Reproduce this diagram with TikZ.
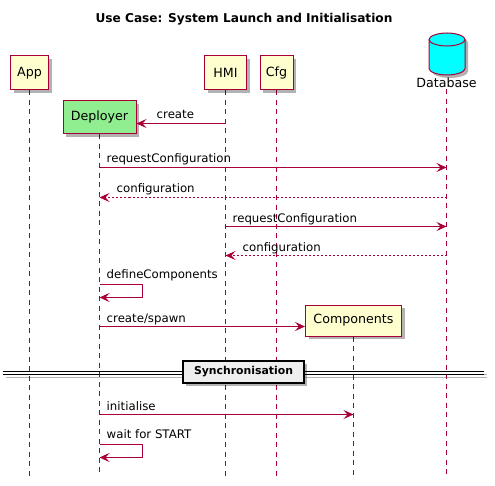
\documentclass[tikz,border=0pt]{standalone}
\usepackage{fontspec}
\setmainfont{DejaVu Sans}
\usetikzlibrary{calc}
\usetikzlibrary{arrows.meta}
\usetikzlibrary{shadows}
\usetikzlibrary{backgrounds}

\definecolor{umlred}{HTML}{A80036}
\definecolor{umlyellow}{HTML}{FEFECE}
\definecolor{umlgreen}{HTML}{90EE90}
\definecolor{umlgray}{HTML}{EEEEEE}
\definecolor{umlcyan}{HTML}{00FFFF}

\tikzset{
  party/.style={draw=umlred, line width=1bp, fill=umlyellow, inner sep=0pt,
    minimum height=34bp, font=\fontsize{12.7}{14}\selectfont,
    drop shadow={shadow xshift=3bp, shadow yshift=-3bp, fill=black, opacity=0.3}},
  lifeline/.style={draw=umlred, line width=1.2bp, dash pattern=on 5bp off 4.5bp},
  msg/.style={draw=umlred, line width=1bp, -{Stealth[length=10bp, width=9bp, inset=4bp]}},
  reply/.style={msg, dash pattern=on 2bp off 2bp},
  msgtext/.style={font=\fontsize{11.8}{14}\selectfont, anchor=base west, inner sep=0pt},
}

\begin{document}
\begin{tikzpicture}[x=1bp, y=-1bp]
  \useasboundingbox (0,0) rectangle (495,486);

  % Title
  \node[font=\fontsize{12.2}{14}\selectfont\bfseries, anchor=base] (title) at (244,22.5)
    {Use Case: System Launch and Initialisation};

  % The participants
  \node[party, minimum width=38bp] (app) at (29.5,73) {App};
  \node[party, minimum width=42bp] (hmi) at (225.5,73) {HMI};
  \node[party, minimum width=33bp] (cfg) at (276.5,73) {Cfg};
  \node[party, minimum width=73bp, minimum height=33bp, fill=umlgreen] (dep) at (99.5,117.5) {Deployer};
  \node[party, minimum width=96bp, minimum height=31bp] (comp) at (353.5,320.5) {Components};

  % The database
  \fill[black, opacity=0.3, shift={(3,3)}] (429,39.5) -- (429,68.5)
    .. controls (429,71.8) and (437.1,75) .. (447,75)
    .. controls (456.9,75) and (465,71.8) .. (465,68.5) -- (465,39.5)
    .. controls (465,36.2) and (456.9,33) .. (447,33)
    .. controls (437.1,33) and (429,36.2) .. (429,39.5) -- cycle;
  \filldraw[fill=umlcyan, draw=umlred, line width=1bp] (429,39.5) -- (429,68.5)
    .. controls (429,71.8) and (437.1,75) .. (447,75)
    .. controls (456.9,75) and (465,71.8) .. (465,68.5) -- (465,39.5)
    .. controls (465,36.2) and (456.9,33) .. (447,33)
    .. controls (437.1,33) and (429,36.2) .. (429,39.5) -- cycle;
  \draw[umlred, line width=1bp] (429,39.5)
    .. controls (429,42.8) and (437.1,46) .. (447,46)
    .. controls (456.9,46) and (465,42.8) .. (465,39.5);
  \node[font=\fontsize{12.7}{14}\selectfont, inner sep=1pt] (db) at (446.5,83) {Database};

  % Lifelines
  \coordinate (bottom) at (0,476);
  \begin{scope}[on background layer]
    \foreach \p in {app, dep, hmi, cfg, comp, db}
      \draw[lifeline] (\p.south) -- (\p.south |- bottom);
  \end{scope}

  % Message rows
  \coordinate (m1) at (0,123.5);
  \coordinate (m2) at (0,167.5);
  \coordinate (m3) at (0,197.5);
  \coordinate (m4) at (0,226.5);
  \coordinate (m5) at (0,255.5);
  \coordinate (m6) at (0,284.5);
  \coordinate (m7) at (0,326.5);
  \coordinate (m8) at (0,414.5);
  \coordinate (m9) at (0,444.5);

  % Messages
  \draw[msg] (hmi |- m1) -- (dep.east |- m1);
  \node[msgtext] at ($(dep.east |- m1)+(20,-4.5)$) {create};
  \draw[msg] (dep |- m2) -- (db |- m2);
  \node[msgtext] at ($(dep |- m2)+(7,-4.5)$) {requestConfiguration};
  \draw[reply] (db |- m3) -- (dep |- m3);
  \node[msgtext] at ($(dep |- m3)+(17,-4.5)$) {configuration};
  \draw[msg] (hmi |- m4) -- (db |- m4);
  \node[msgtext] at ($(hmi |- m4)+(7,-4.5)$) {requestConfiguration};
  \draw[reply] (db |- m5) -- (hmi |- m5);
  \node[msgtext] at ($(hmi |- m5)+(17,-4.5)$) {configuration};
  \draw[msg] (dep |- m6) -| ($(dep |- m6)+(43,13)$) -- ($(dep |- m6)+(0,13)$);
  \node[msgtext] at ($(dep |- m6)+(7,-6)$) {defineComponents};
  \draw[msg] (dep |- m7) -- (comp.west |- m7);
  \node[msgtext] at ($(dep |- m7)+(7,-4.5)$) {create/spawn};

  % The divider
  \draw[black, opacity=0.3, line width=1bp] (6,374.5) -- (487,374.5) (6,377.5) -- (487,377.5);
  \draw[black, line width=1bp] (3,371.5) -- (484,371.5) (3,374.5) -- (484,374.5);
  \node[draw=black, line width=1.5bp, fill=umlgray, minimum width=121bp, minimum height=22bp,
    inner sep=0pt, font=\fontsize{10.9}{13}\selectfont\bfseries,
    drop shadow={shadow xshift=3bp, shadow yshift=-3bp, fill=black, opacity=0.3}]
    (sync) at (243.5,372) {Synchronisation};

  \draw[msg] (dep |- m8) -- (comp |- m8);
  \node[msgtext] at ($(dep |- m8)+(7,-4.5)$) {initialise};
  \draw[msg] (dep |- m9) -| ($(dep |- m9)+(43,13)$) -- ($(dep |- m9)+(0,13)$);
  \node[msgtext] at ($(dep |- m9)+(7,-6)$) {wait for START};
\end{tikzpicture}
\end{document}
